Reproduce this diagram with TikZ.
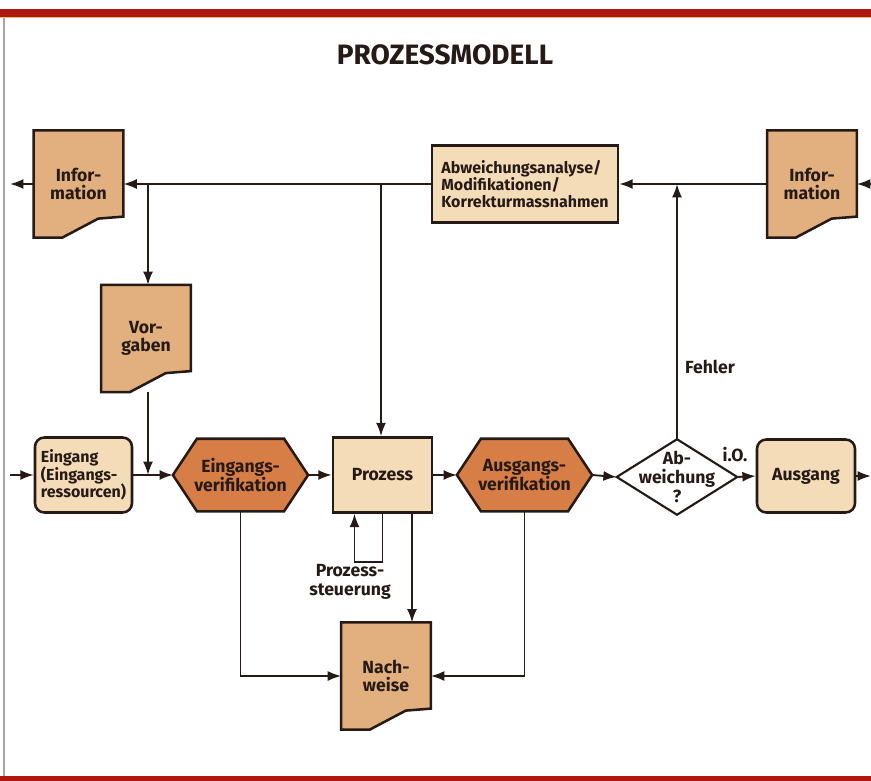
\documentclass[tikz,border=0pt]{standalone}
\usepackage{fontspec}
\setmainfont{Fira Sans}
\usetikzlibrary{arrows.meta, calc, positioning, backgrounds}
\definecolor{barred}{RGB}{176,22,18}
\definecolor{barline}{RGB}{236,190,90}
\definecolor{ink}{RGB}{38,26,22}
\definecolor{doctan}{RGB}{226,176,126}
\definecolor{boxlight}{RGB}{245,220,184}
\definecolor{hexbrown}{RGB}{214,126,70}

\begin{document}
\begin{tikzpicture}[x=0.75pt, y=-0.75pt]
        \tikzstyle{line}=[draw=ink, line width=1.4pt]
        \tikzstyle{arr}=[line, -{Latex[length=10pt,width=7.5pt]}]
        \tikzstyle{lbl}=[font=\bfseries\fontsize{13.2}{14}\selectfont, text=ink, align=center, inner sep=0pt]
        \tikzstyle{small}=[font=\bfseries\fontsize{12}{13}\selectfont]
        \tikzstyle{outline}=[draw=ink, line width=1.9pt, line join=miter]
        \tikzstyle{doc}=[lbl, minimum width=67pt, minimum height=80pt]
        \tikzstyle{hexa}=[lbl, minimum width=101pt, minimum height=54pt]
        \tikzstyle{plainbox}=[lbl, outline, fill=boxlight]
        \tikzstyle{roundbox}=[plainbox, rounded corners=7pt]

        \useasboundingbox (0,0) rectangle (871,781);

        % Frame
        \fill[barred] (0,9) rectangle (871,17);
        \draw[barline, line width=0.6pt] (0,17.4) -- (871,17.4);
        \fill[barred] (0,776) rectangle (871,781);
        \draw[gray!70, line width=0.8pt] (4,18) -- (4,776);

        % Title
        \node[font=\bfseries\fontsize{21}{23}\selectfont, text=ink] (title) at (445,55) {PROZESSMODELL};

        % Upper row
        \node[doc] (infoL) at (78.5,184) {Infor-\\mation};
        \node[doc] (infoR) at (812,184) {Infor-\\mation};
        \node[plainbox, small, align=left, minimum width=139.5pt, minimum height=57.75pt] (abw) at (525,184)
            {Abweichungsanalyse/\\Modifikationen/\\Korrekturmassnahmen};
        \node[doc] (vorg) at (146,338.5) {Vor-\\gaben};

        % Lower row
        \node[roundbox, small, align=left, minimum width=72.75pt, minimum height=56.25pt] (eing) at (83.5,475)
            {Eingang\\(Eingangs-\\ressourcen)};
        \node[hexa] (hexE) at (240.5,475) {Eingangs-\\verifikation};
        \node[plainbox, minimum width=74.25pt, minimum height=56.25pt] (proz) at (382.5,475) {Prozess};
        \node[hexa] (hexA) at (524.5,475) {Ausgangs-\\verifikation};
        \node[lbl, minimum width=90pt, minimum height=56.25pt] (dia) at (677,477) {Ab-\\weichung\\?};
        \node[roundbox, minimum width=73.5pt, minimum height=54.75pt] (ausg) at (806,476) {Ausgang};
        \node[doc] (nachw) at (386,676) {Nach-\\weise};

        % Labels
        \node[lbl] (fehler) at (710,367) {Fehler};
        \node[lbl] (io) at (735,455) {i.O.};
        \node[lbl] (steu) at (350,582) {Prozess-\\steuerung};

        % Shapes behind the texts
        \begin{scope}[on background layer]
            \foreach \n in {infoL,infoR,vorg,nachw}
                \draw[outline, fill=doctan] (\n.north west) -- (\n.north east)
                    -- ($(\n.south east)+(0,-21)$)
                    -- ($(\n.south west)!0.72!(\n.south east)+(0,-19)$)
                    -- ($(\n.south west)!0.32!(\n.south east)$)
                    -- (\n.south west) -- cycle;
            \foreach \n in {hexE,hexA}
                \draw[outline, fill=hexbrown] (\n.west) -- ($(\n.north west)+(24,0)$)
                    -- ($(\n.north east)+(-24,0)$) -- (\n.east)
                    -- ($(\n.south east)+(-24,0)$) -- ($(\n.south west)+(24,0)$) -- cycle;
            \draw[outline, line width=1.6pt, fill=white] (dia.west) -- (dia.north) -- (dia.east) -- (dia.south) -- cycle;
        \end{scope}

        % Free ends and junctions
        \coordinate (outL) at (10,184);
        \coordinate (inR) at (871,184);
        \coordinate (inL) at (10,475);
        \coordinate (outR) at (871,476);
        \coordinate (j1) at (148,184);
        \coordinate (j2) at (148,475);
        \coordinate (j3) at (381,184);
        \coordinate (p1) at ($(proz.south)+(29.5,0)$);

        % Upper connectors
        \draw[arr] (infoL.west) -- (outL);
        \draw[arr] (inR) -- (infoR.east);
        \draw[arr] (infoR.west) -- (abw.east);
        \draw[arr] (abw.west) -- (infoL.east);
        \draw[arr] (j1) -- (j1 |- vorg.north);
        \draw[arr] (vorg.south -| j1) -- (j2);
        \draw[arr] (j3) -- (j3 |- proz.north);
        \draw[arr] (dia.north) -- (dia.north |- abw.east);

        % Lower connectors
        \draw[arr] (inL) -- (eing.west);
        \draw[arr] (eing.east) -- (hexE.west);
        \draw[arr] (hexE.east) -- (proz.west);
        \draw[arr] (proz.east) -- (hexA.west);
        \draw[arr] (hexA.east) -- (dia.west);
        \draw[arr] (dia.east) -- (ausg.west);
        \draw[arr] (ausg.east) -- (outR);
        \draw[arr] (proz.south) -- ++(0,48) -- ++(-28,0) -- ++(0,-48);
        \draw[arr] (p1) -- (p1 |- nachw.north);
        \draw[arr] (hexE.south) |- (nachw.west);
        \draw[arr] (hexA.south) |- (nachw.east);
\end{tikzpicture}
\end{document}
